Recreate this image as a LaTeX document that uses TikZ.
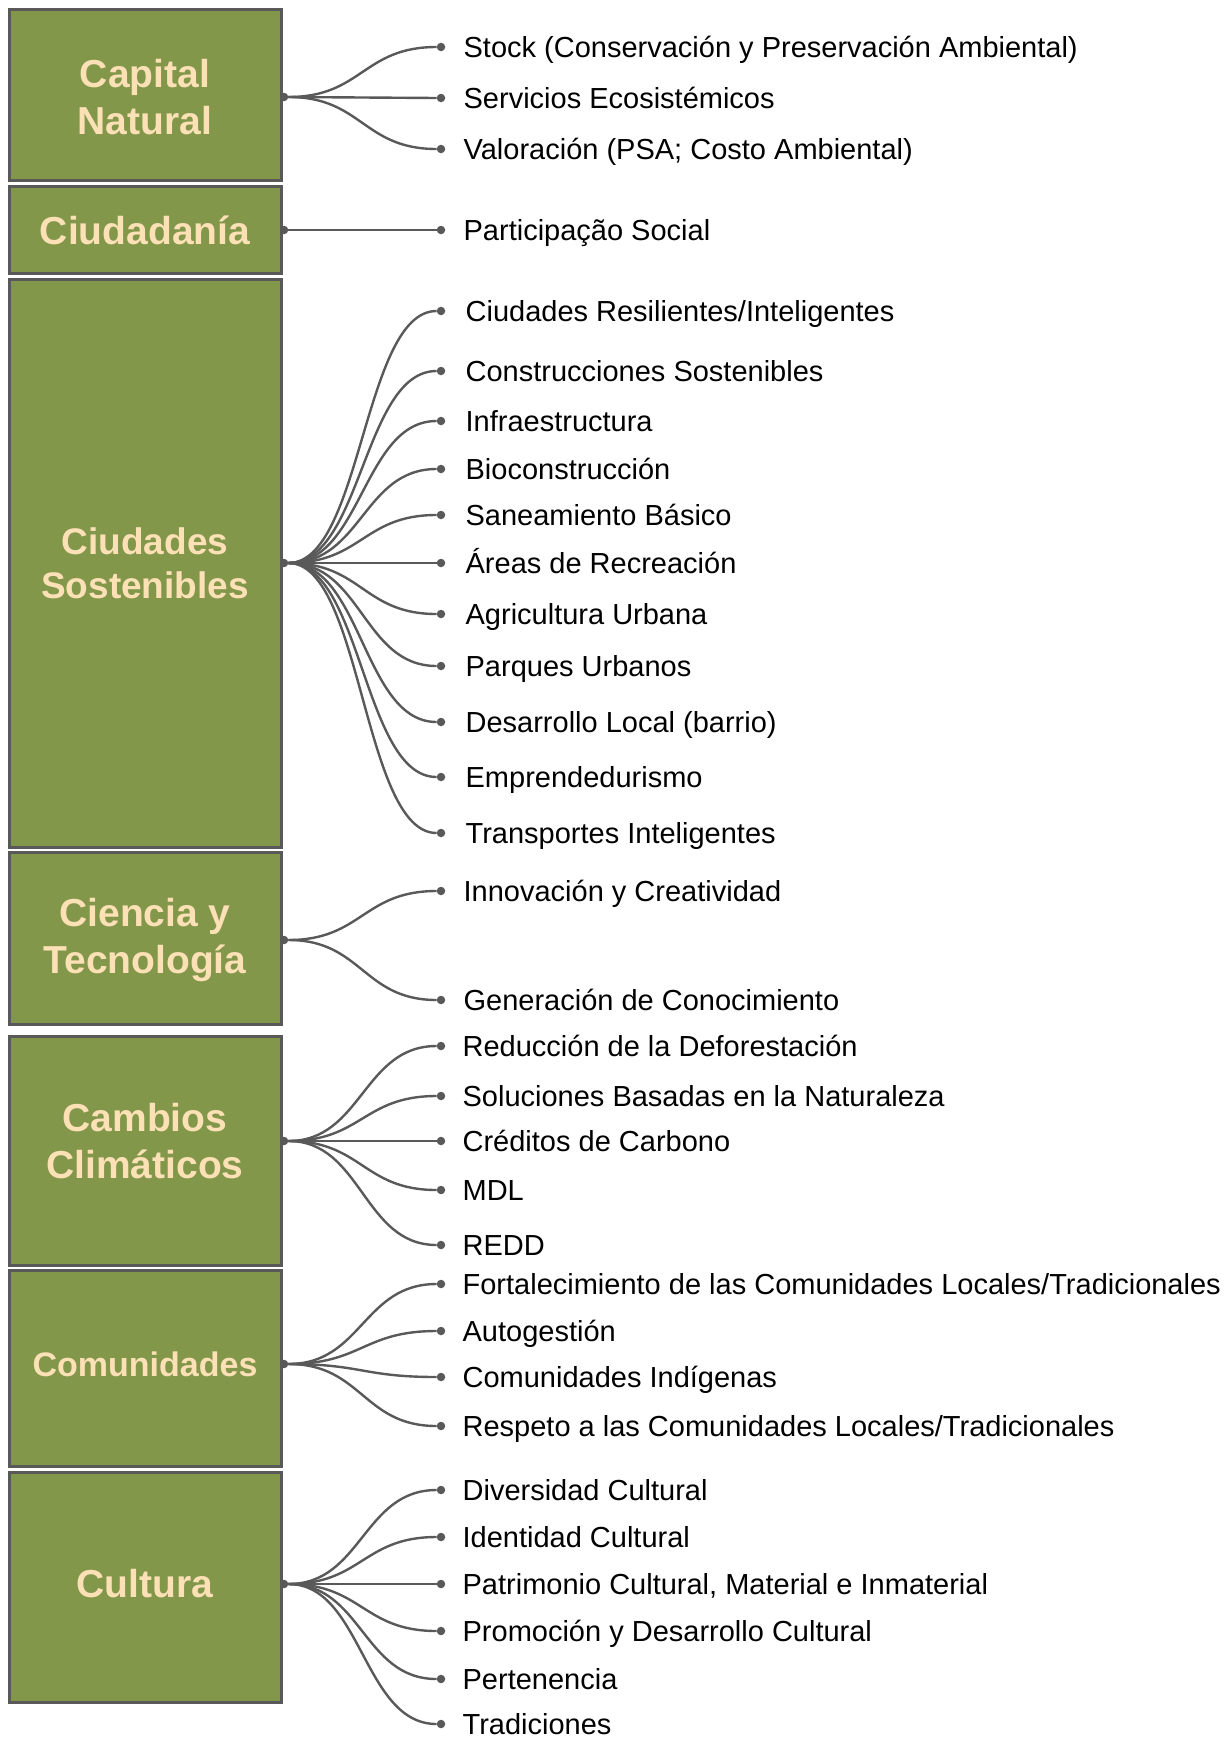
\documentclass[tikz,border=0pt]{standalone}
\usepackage{fontspec}
\setmainfont{Liberation Sans}
\usetikzlibrary{positioning}
\definecolor{boxgreen}{HTML}{82974A}
\definecolor{titlepeach}{HTML}{FCE0B6}
\definecolor{linegray}{HTML}{595959}

\begin{document}
\begin{tikzpicture}[x=1pt,y=-1pt,
  box/.style={draw=linegray,line width=3pt,fill=boxgreen},
  title/.style={text=titlepeach,align=center,font=\bfseries\fontsize{39}{46.5}\selectfont},
  dot/.style={circle,fill=linegray,inner sep=0pt,minimum size=8.5pt},
  item/.style={inner sep=0pt,text height=20.8pt,text depth=0pt,font=\fontsize{29}{34}\selectfont},
  link/.style={draw=linegray,line width=2.4pt}]
 \useasboundingbox (0,0) rectangle (1229,1738);
 \draw[box](9,9) rectangle (281,180);
 \draw[box](9,186) rectangle (281,273);
 \draw[box](9,279) rectangle (281,847);
 \draw[box](9,852) rectangle (281,1024);
 \draw[box](9,1036) rectangle (281,1265);
 \draw[box](9,1270) rectangle (281,1466);
 \draw[box](9,1472) rectangle (281,1702);
 \node[title] (cn) at (145,97) {Capital\\Natural};
 \node[title] (ci) at (145,230) {Ciudadanía};
 \node[title,font=\bfseries\fontsize{37}{44}\selectfont] (cs) at (145,563) {Ciudades\\Sostenibles};
 \node[title] (ct) at (145,940) {Ciencia y\\Tecnología};
 \node[title] (cc) at (145,1141) {Cambios\\Climáticos};
 \node[title,font=\bfseries\fontsize{34}{40}\selectfont] (co) at (145,1364) {Comunidades};
 \node[title] (cu) at (145,1584) {Cultura};
 \node[dot] (cn0) at (284,97) {};
 \node[dot] (ci0) at (284,230) {};
 \node[dot] (cs0) at (284,563) {};
 \node[dot] (ct0) at (284,940) {};
 \node[dot] (cc0) at (284,1141) {};
 \node[dot] (co0) at (284,1364) {};
 \node[dot] (cu0) at (284,1584) {};
 % Capital Natural
 \node[dot] (cn1) at (441,47) {};
 \node[dot] (cn2) at (441,98) {};
 \node[dot] (cn3) at (441,149) {};
 \node[item,right=18pt of cn1] (cn1t) {Stock (Conservación y Preservación Ambiental)};
 \node[item,right=18pt of cn2] (cn2t) {Servicios Ecosistémicos};
 \node[item,right=18pt of cn3] (cn3t) {Valoración (PSA; Costo Ambiental)};
 % Ciudadania
 \node[dot] (ci1) at (441,230) {};
 \node[item,right=18pt of ci1] (ci1t) {Participação Social};
 % Ciudades Sostenibles
 \node[dot] (cs1) at (441,311) {};
 \node[dot] (cs2) at (441,371) {};
 \node[dot] (cs3) at (441,421) {};
 \node[dot] (cs4) at (441,469) {};
 \node[dot] (cs5) at (441,515) {};
 \node[dot] (cs6) at (441,563) {};
 \node[dot] (cs7) at (441,614) {};
 \node[dot] (cs8) at (441,666) {};
 \node[dot] (cs9) at (441,722) {};
 \node[dot] (cs10) at (441,777) {};
 \node[dot] (cs11) at (441,833) {};
 \node[item,right=20pt of cs1] (cs1t) {Ciudades Resilientes/Inteligentes};
 \node[item,right=20pt of cs2] (cs2t) {Construcciones Sostenibles};
 \node[item,right=20pt of cs3] (cs3t) {Infraestructura};
 \node[item,right=20pt of cs4] (cs4t) {Bioconstrucción};
 \node[item,right=20pt of cs5] (cs5t) {Saneamiento Básico};
 \node[item,right=20pt of cs6] (cs6t) {Áreas de Recreación};
 \node[item,right=20pt of cs7] (cs7t) {Agricultura Urbana};
 \node[item,right=20pt of cs8] (cs8t) {Parques Urbanos};
 \node[item,right=20pt of cs9] (cs9t) {Desarrollo Local (barrio)};
 \node[item,right=20pt of cs10] (cs10t) {Emprendedurismo};
 \node[item,right=20pt of cs11] (cs11t) {Transportes Inteligentes};
 % Ciencia y Tecnologia
 \node[dot] (ct1) at (441,891) {};
 \node[dot] (ct2) at (441,1000) {};
 \node[item,right=18pt of ct1] (ct1t) {Innovación y Creatividad};
 \node[item,right=18pt of ct2] (ct2t) {Generación de Conocimiento};
 % Cambios Climaticos
 \node[dot] (cc1) at (441,1046) {};
 \node[dot] (cc2) at (441,1096) {};
 \node[dot] (cc3) at (441,1141) {};
 \node[dot] (cc4) at (441,1190) {};
 \node[dot] (cc5) at (441,1245) {};
 \node[item,right=17pt of cc1] (cc1t) {Reducción de la Deforestación};
 \node[item,right=17pt of cc2] (cc2t) {Soluciones Basadas en la Naturaleza};
 \node[item,right=17pt of cc3] (cc3t) {Créditos de Carbono};
 \node[item,right=17pt of cc4] (cc4t) {MDL};
 \node[item,right=17pt of cc5] (cc5t) {REDD};
 % Comunidades
 \node[dot] (co1) at (441,1284) {};
 \node[dot] (co2) at (441,1331) {};
 \node[dot] (co3) at (441,1377) {};
 \node[dot] (co4) at (441,1426) {};
 \node[item,right=17pt of co1] (co1t) {Fortalecimiento de las Comunidades Locales/Tradicionales};
 \node[item,right=17pt of co2] (co2t) {Autogestión};
 \node[item,right=17pt of co3] (co3t) {Comunidades Indígenas};
 \node[item,right=17pt of co4] (co4t) {Respeto a las Comunidades Locales/Tradicionales};
 % Cultura
 \node[dot] (cu1) at (441,1490) {};
 \node[dot] (cu2) at (441,1537) {};
 \node[dot] (cu3) at (441,1584) {};
 \node[dot] (cu4) at (441,1631) {};
 \node[dot] (cu5) at (441,1679) {};
 \node[dot] (cu6) at (441,1724) {};
 \node[item,right=17pt of cu1] (cu1t) {Diversidad Cultural};
 \node[item,right=17pt of cu2] (cu2t) {Identidad Cultural};
 \node[item,right=17pt of cu3] (cu3t) {Patrimonio Cultural, Material e Inmaterial};
 \node[item,right=17pt of cu4] (cu4t) {Promoción y Desarrollo Cultural};
 \node[item,right=17pt of cu5] (cu5t) {Pertenencia};
 \node[item,right=17pt of cu6] (cu6t) {Tradiciones};
 % links
 \draw[link](cn0) .. controls +(78,0) and +(-78,0) .. (cn1);
 \draw[link](cn0) .. controls +(78,0) and +(-78,0) .. (cn2);
 \draw[link](cn0) .. controls +(78,0) and +(-78,0) .. (cn3);
 \draw[link](ci0) -- (ci1);
 \draw[link](cs0) .. controls +(78,0) and +(-78,0) .. (cs1);
 \draw[link](cs0) .. controls +(78,0) and +(-78,0) .. (cs2);
 \draw[link](cs0) .. controls +(78,0) and +(-78,0) .. (cs3);
 \draw[link](cs0) .. controls +(78,0) and +(-78,0) .. (cs4);
 \draw[link](cs0) .. controls +(78,0) and +(-78,0) .. (cs5);
 \draw[link](cs0) -- (cs6);
 \draw[link](cs0) .. controls +(78,0) and +(-78,0) .. (cs7);
 \draw[link](cs0) .. controls +(78,0) and +(-78,0) .. (cs8);
 \draw[link](cs0) .. controls +(78,0) and +(-78,0) .. (cs9);
 \draw[link](cs0) .. controls +(78,0) and +(-78,0) .. (cs10);
 \draw[link](cs0) .. controls +(78,0) and +(-78,0) .. (cs11);
 \draw[link](ct0) .. controls +(78,0) and +(-78,0) .. (ct1);
 \draw[link](ct0) .. controls +(78,0) and +(-78,0) .. (ct2);
 \draw[link](cc0) .. controls +(78,0) and +(-78,0) .. (cc1);
 \draw[link](cc0) .. controls +(78,0) and +(-78,0) .. (cc2);
 \draw[link](cc0) -- (cc3);
 \draw[link](cc0) .. controls +(78,0) and +(-78,0) .. (cc4);
 \draw[link](cc0) .. controls +(78,0) and +(-78,0) .. (cc5);
 \draw[link](co0) .. controls +(78,0) and +(-78,0) .. (co1);
 \draw[link](co0) .. controls +(78,0) and +(-78,0) .. (co2);
 \draw[link](co0) .. controls +(78,0) and +(-78,0) .. (co3);
 \draw[link](co0) .. controls +(78,0) and +(-78,0) .. (co4);
 \draw[link](cu0) .. controls +(78,0) and +(-78,0) .. (cu1);
 \draw[link](cu0) .. controls +(78,0) and +(-78,0) .. (cu2);
 \draw[link](cu0) -- (cu3);
 \draw[link](cu0) .. controls +(78,0) and +(-78,0) .. (cu4);
 \draw[link](cu0) .. controls +(78,0) and +(-78,0) .. (cu5);
 \draw[link](cu0) .. controls +(78,0) and +(-78,0) .. (cu6);
\end{tikzpicture}
\end{document}
